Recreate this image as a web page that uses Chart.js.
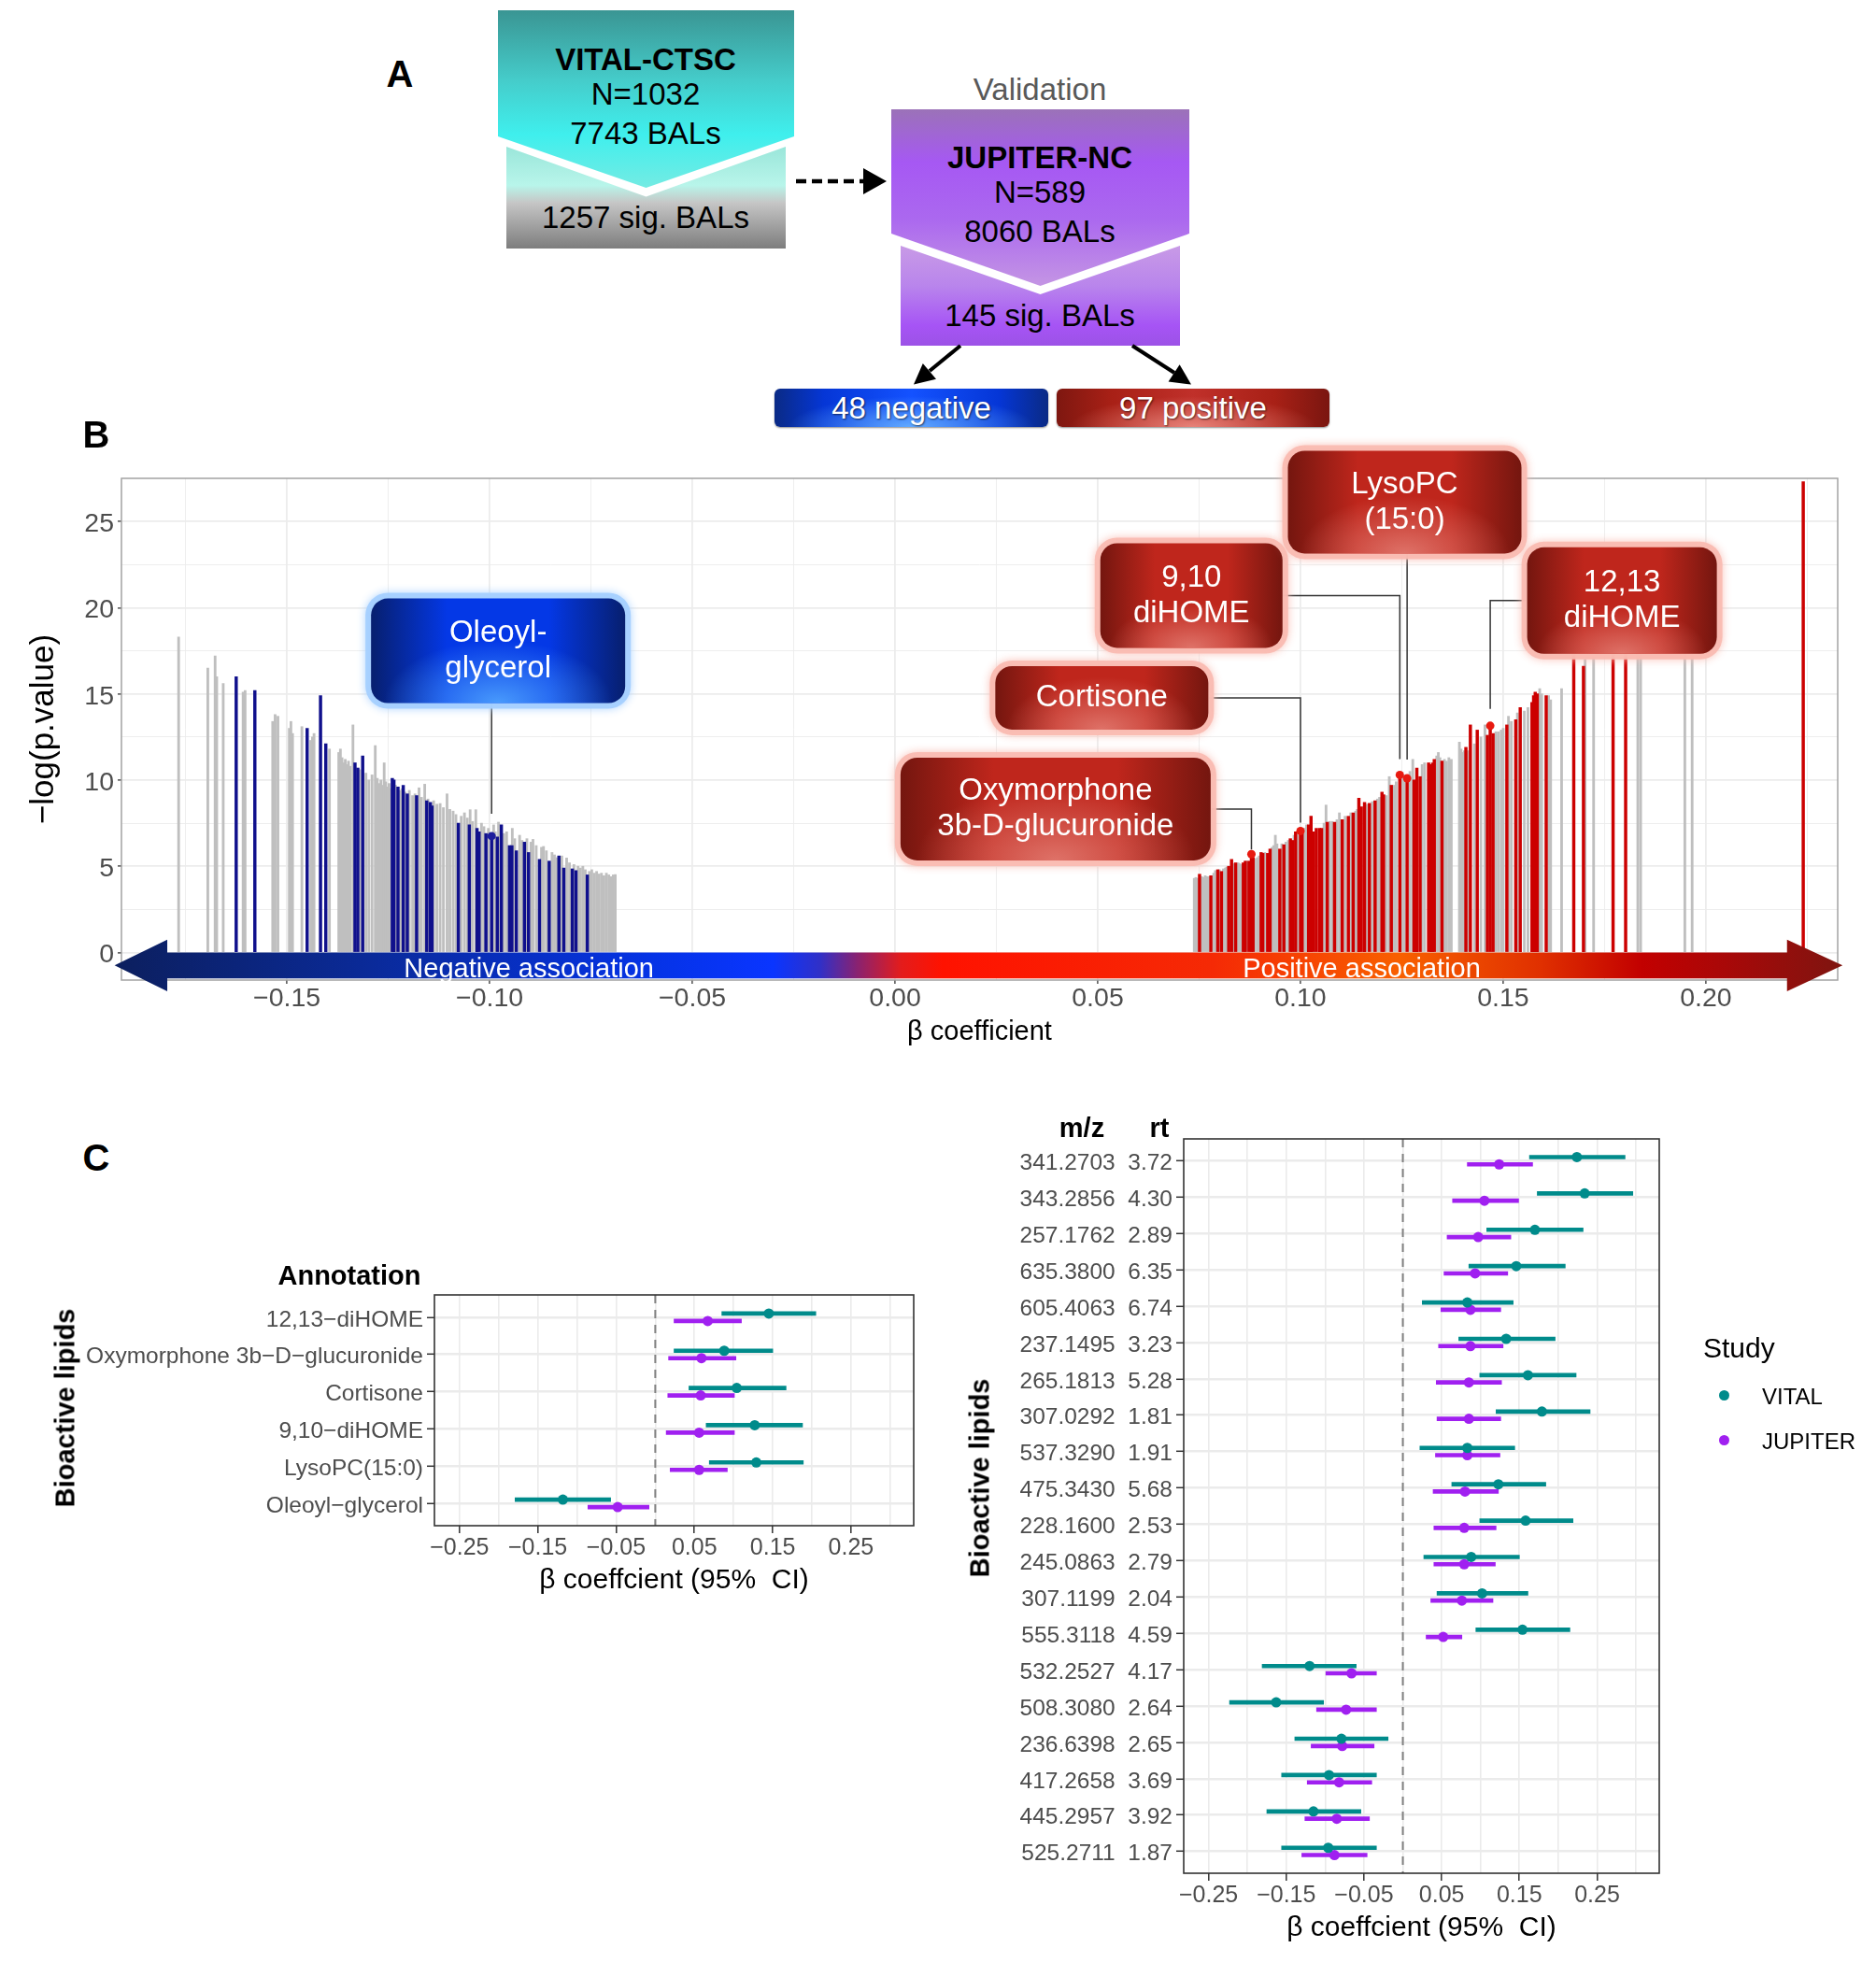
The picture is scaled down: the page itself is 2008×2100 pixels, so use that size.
<!DOCTYPE html>
<html>
<head>
<meta charset="utf-8">
<title>Bioactive lipids – VITAL / JUPITER</title>
<script src="https://cdn.jsdelivr.net/npm/chart.js@4.4.1/dist/chart.umd.min.js"></script>
<style>
  html, body { margin: 0; padding: 0; background: #fff; }
  body { width: 2008px; height: 2100px; position: relative; overflow: hidden;
         font-family: "Liberation Sans", Arial, Helvetica, sans-serif; color: #000; }
  .abs { position: absolute; }
  .txt { position: absolute; transform: translate(-50%, -50%); white-space: nowrap; line-height: 1; }
  .letter { font-weight: bold; font-size: 40px; }
  .flow { font-size: 33px; }
  .pill { position: absolute; border-radius: 6px; box-shadow: 0 1px 2px rgba(0,0,0,.45); }
  .pill span { position: absolute; left: 50%; top: 50%; transform: translate(-50%, -50%);
               color: #fff; font-size: 33px; white-space: nowrap; text-shadow: 1px 1px 2px rgba(0,0,0,.6); }
  canvas { position: absolute; }
  .vtitle { position: absolute; transform: translate(-50%, -50%) rotate(-90deg); font-weight: bold;
            font-size: 29px; white-space: nowrap; }
</style>
</head>
<body>

<!-- panel A : study flow -->
<div class="abs" style="left:533px;top:11px;width:317px;height:190px;clip-path:polygon(0 0,100% 0,100% 71%,50% 100%,0 71%);background:linear-gradient(#3a9593 0%,#45cdcb 40%,#3fefed 70%,#74ebe3 100%)"></div>
<div class="abs" style="left:542px;top:157px;width:299px;height:109px;clip-path:polygon(0 0,50% 49%,100% 0,100% 100%,0 100%);background:linear-gradient(#9ae6da 0%,#b8f5ea 38%,#c6c6c6 55%,#7d7d7d 100%)"></div>
<div class="abs" style="left:954px;top:117px;width:319px;height:189px;clip-path:polygon(0 0,100% 0,100% 70.4%,50% 100%,0 70.4%);background:linear-gradient(#9b72b8 0%,#a658f3 30%,#ab68ef 62%,#c495e4 100%)"></div>
<div class="abs" style="left:964px;top:263px;width:299px;height:107px;clip-path:polygon(0 0,50% 48.6%,100% 0,100% 100%,0 100%);background:linear-gradient(#c89ae6 0%,#b985ec 40%,#a654f5 80%,#9c52e6 100%)"></div>

<div class="txt letter" style="left:428px;top:79px">A</div>
<div class="txt flow" style="left:691px;top:63px;font-weight:bold">VITAL-CTSC</div>
<div class="txt flow" style="left:691px;top:100px">N=1032</div>
<div class="txt flow" style="left:691px;top:142px">7743 BALs</div>
<div class="txt flow" style="left:691px;top:232px">1257 sig. BALs</div>
<div class="txt flow" style="left:1113px;top:95px;color:#595959">Validation</div>
<div class="txt flow" style="left:1113px;top:168px;font-weight:bold">JUPITER-NC</div>
<div class="txt flow" style="left:1113px;top:205px">N=589</div>
<div class="txt flow" style="left:1113px;top:247px">8060 BALs</div>
<div class="txt flow" style="left:1113px;top:337px">145 sig. BALs</div>

<svg class="abs" style="left:0;top:0" width="2008" height="470">
  <line x1="852" y1="194" x2="925" y2="194" stroke="#000" stroke-width="4.5" stroke-dasharray="11,6"/>
  <polygon points="924,180 949,194 924,208" fill="#000"/>
  <line x1="1028" y1="370" x2="995" y2="397" stroke="#000" stroke-width="4"/>
  <polygon points="978,411.5 1002,405.8 987.8,389" fill="#000"/>
  <line x1="1212" y1="370" x2="1257" y2="399" stroke="#000" stroke-width="4"/>
  <polygon points="1275,411.5 1250.6,408.6 1262.6,390.2" fill="#000"/>
</svg>

<div class="pill" style="left:829px;top:416px;width:293px;height:41px;background:radial-gradient(ellipse 45% 80% at 50% 100%, rgba(110,185,255,.85), rgba(110,185,255,0) 100%), linear-gradient(90deg,#0a2a85 0%,#0536d6 18%,#1452ff 50%,#0536d6 82%,#0a2a85 100%)"><span>48 negative</span></div>
<div class="pill" style="left:1131px;top:416px;width:292px;height:41px;background:radial-gradient(ellipse 45% 80% at 50% 100%, rgba(240,150,140,.8), rgba(240,150,140,0) 100%), linear-gradient(90deg,#7e1710 0%,#a82016 20%,#c0302a 50%,#a82016 80%,#7a1610 100%)"><span>97 positive</span></div>

<!-- charts -->
<canvas id="chartB" width="2008" height="700" style="left:0;top:460px"></canvas>
<canvas id="chartAnnot" width="1000" height="420" style="left:0;top:1300px"></canvas>
<canvas id="chartUnknown" width="1008" height="930" style="left:1000px;top:1170px"></canvas>

<div class="txt letter" style="left:103px;top:465px">B</div>
<div class="txt letter" style="left:103px;top:1239px">C</div>

<div class="txt" style="left:374px;top:1365px;font-weight:bold;font-size:29px">Annotation</div>
<div class="txt" style="left:1158px;top:1207px;font-weight:bold;font-size:29px">m/z</div>
<div class="txt" style="left:1241px;top:1207px;font-weight:bold;font-size:29px">rt</div>
<div class="vtitle" style="left:70px;top:1507px">Bioactive lipids</div>
<div class="vtitle" style="left:1049px;top:1582px">Bioactive lipids</div>

<!-- legend -->
<div class="abs" style="left:1823px;top:1428px;font-size:30px;line-height:1">Study</div>
<div class="abs" style="left:1840px;top:1488px;width:11px;height:11px;border-radius:50%;background:#008b8b"></div>
<div class="abs" style="left:1886px;top:1483px;font-size:24px;line-height:1">VITAL</div>
<div class="abs" style="left:1840px;top:1536px;width:11px;height:11px;border-radius:50%;background:#a020f0"></div>
<div class="abs" style="left:1886px;top:1531px;font-size:24px;line-height:1">JUPITER</div>

<script>
// ---------------- panel B data: [beta coefficient, -log(p.value)] ----------------
const negGrey = [
  [-0.1767,18.3],[-0.1695,16.5],[-0.1677,17.2],[-0.1673,16.0],[-0.1657,15.6],[-0.1608,15.1],[-0.1603,15.2],
  [-0.1535,13.4],[-0.1529,13.8],[-0.1522,13.7],[-0.1494,13.0],[-0.1490,13.4],[-0.1486,12.7],[-0.1463,13.1],
  [-0.1441,12.3],[-0.1437,12.5],[-0.1433,12.7],[-0.1395,11.8],[-0.1372,11.6],[-0.1368,11.8],[-0.1364,11.3],
  [-0.1360,11.0],[-0.1356,11.2],[-0.1352,10.9],[-0.1348,11.1],[-0.1344,10.8],[-0.1337,13.2],[-0.1320,10.6],
  [-0.1305,10.4],[-0.1298,10.0],[-0.1290,10.3],[-0.1282,12.0],[-0.1277,10.1],[-0.1272,9.8],[-0.1268,10.0],
  [-0.1264,9.7],[-0.1260,11.0],[-0.1256,9.9],[-0.1252,9.6],[-0.1248,9.8],[-0.1244,9.5],[-0.1232,9.7],
  [-0.1222,9.4],[-0.1216,9.5],[-0.1208,9.3],[-0.1198,9.4],[-0.1190,9.1],[-0.1184,9.2],[-0.1174,9.55],
  [-0.1168,9.0],[-0.1160,9.76],[-0.1152,8.9],[-0.1138,8.8],[-0.1130,8.6],[-0.1122,8.64],[-0.1114,8.4],
  [-0.1105,9.2],[-0.1098,8.3],[-0.1090,8.2],[-0.1083,8.0],[-0.1070,7.9],[-0.1062,8.1],[-0.1055,7.8],
  [-0.1048,8.28],[-0.1042,7.6],[-0.1034,8.28],[-0.1020,7.5],[-0.1014,7.3],[-0.1003,7.2],[-0.0990,7.4],
  [-0.0986,7.0],[-0.0978,7.56],[-0.0965,6.9],[-0.0958,7.0],[-0.0944,7.2],[-0.0938,6.6],[-0.0926,6.8],
  [-0.0920,6.5],[-0.0908,6.6],[-0.0898,6.4],[-0.0893,6.56],[-0.0885,6.2],[-0.0872,6.1],[-0.0867,6.15],
  [-0.0860,5.9],[-0.0846,5.8],[-0.0840,5.66],[-0.0834,5.5],[-0.0822,5.6],[-0.0810,5.48],[-0.0803,5.2],
  [-0.0792,5.1],[-0.0782,5.0],[-0.0776,4.9],[-0.0770,5.0],[-0.0764,4.8],[-0.0754,4.7],[-0.0748,4.8],
  [-0.0742,4.6],[-0.0736,4.7],[-0.0730,4.55],[-0.0724,4.6],[-0.0718,4.45],[-0.0712,4.6],[-0.0706,4.5],
  [-0.0700,4.4],[-0.0695,4.5],[-0.0690,4.52]
];
const negSig = [
  [-0.1625,16.0],[-0.1579,15.2],[-0.1450,13.0],[-0.1417,14.9],[-0.1404,12.1],[-0.1332,11.0],[-0.1325,10.7],
  [-0.1313,11.4],[-0.1240,10.1],[-0.1236,10.0],[-0.1226,9.6],[-0.1213,9.7],[-0.1203,9.2],[-0.1180,9.1],
  [-0.1155,8.8],[-0.1146,8.7],[-0.1142,8.5],[-0.1077,7.5],[-0.1050,7.4],[-0.1031,7.2],[-0.1026,7.0],
  [-0.1009,6.9],[-0.0995,6.75],[-0.0981,6.7],[-0.0971,7.4],[-0.0951,6.2],[-0.0945,6.2],[-0.0934,5.9],
  [-0.0914,6.4],[-0.0904,5.8],[-0.0877,5.4],[-0.0853,5.3],[-0.0829,5.6],[-0.0817,4.9],[-0.0796,4.85],
  [-0.0787,4.75],[-0.0759,4.5]
];
const posGrey = [
  [0.0738,4.3],[0.0742,4.35],[0.0746,4.3],[0.0756,4.4],[0.0760,4.35],[0.0765,4.45],[0.0770,4.4],[0.0774,4.4],
  [0.0786,4.6],[0.0790,4.75],[0.0800,4.8],[0.0810,4.85],[0.0815,4.9],[0.0818,4.95],[0.0835,5.15],[0.0846,5.2],
  [0.0850,5.15],[0.0854,5.1],[0.0867,5.3],[0.0888,5.45],[0.0894,5.5],[0.0898,5.6],[0.0912,5.8],[0.0930,6.1],
  [0.0934,6.2],[0.0938,6.8],[0.0942,6.3],[0.0954,6.3],[0.0964,6.4],[0.0970,6.5],[0.0984,6.8],[0.0993,6.9],
  [0.1010,7.2],[0.1015,7.4],[0.1058,7.5],[0.1063,8.55],[0.1072,7.6],[0.1078,7.6],[0.1090,7.7],[0.1096,8.1],
  [0.1110,7.9],[0.1124,8.1],[0.1136,8.2],[0.1140,8.3],[0.1163,8.6],[0.1177,8.75],[0.1190,8.9],[0.1195,9.0],
  [0.1212,9.1],[0.1219,10.2],[0.1230,9.7],[0.1236,9.9],[0.1250,10.4],[0.1256,10.3],[0.1270,10.5],[0.1277,11.2],
  [0.1300,10.9],[0.1306,11.0],[0.1336,11.4],[0.1340,11.6],[0.1344,11.3],[0.1355,11.2],[0.1360,11.1],[0.1366,11.3],
  [0.1372,11.2],[0.1392,12.2],[0.1396,11.8],[0.1400,11.6],[0.1404,11.7],[0.1413,11.7],[0.1429,12.1],[0.1445,12.5],
  [0.1455,13.2],[0.1482,12.8],[0.1488,12.8],[0.1495,12.9],[0.1500,13.0],[0.1513,13.7],[0.1520,13.4],[0.1535,13.9],
  [0.1552,14.0],[0.1561,14.2],[0.1590,15.3],[0.1595,15.0],[0.1612,14.9],[0.1617,14.65],[0.1644,15.3],[0.1702,17.0],
  [0.1723,17.1],[0.1832,19.0],[0.1839,21.0],[0.1948,18.5],[0.1966,20.0]
];
const posSig = [
  [0.0751,4.54],[0.0779,4.45],[0.0796,4.8],[0.0805,4.7],[0.0823,5.0],[0.0830,5.4],[0.0840,5.2],[0.0859,5.2],
  [0.0864,5.3],[0.0873,5.3],[0.0879,5.7],[0.0883,5.5],[0.0903,5.8],[0.0907,5.75],[0.0919,5.75],[0.0925,6.0],
  [0.0949,6.0],[0.0959,6.25],[0.0975,6.6],[0.0980,6.5],[0.0988,7.0],[0.1000,7.05],[0.1004,7.05],[0.1020,7.4],
  [0.1026,7.9],[0.1032,7.0],[0.1039,7.2],[0.1047,7.2],[0.1052,7.2],[0.1066,7.55],[0.1084,7.55],[0.1103,7.7],
  [0.1118,7.9],[0.1130,8.1],[0.1144,8.95],[0.1150,8.45],[0.1158,8.7],[0.1170,8.65],[0.1184,8.8],[0.1201,9.3],
  [0.1205,9.15],[0.1224,9.7],[0.1245,10.3],[0.1263,10.1],[0.1280,10.0],[0.1287,10.7],[0.1295,10.2],[0.1316,11.0],
  [0.1322,10.9],[0.1326,11.0],[0.1330,11.2],[0.1349,11.1],[0.1408,11.9],[0.1419,13.2],[0.1436,12.9],[0.1461,12.6],
  [0.1468,13.15],[0.1475,12.7],[0.1509,13.2],[0.1531,13.5],[0.1542,14.2],[0.1571,14.5],[0.1575,14.9],[0.1579,15.1],
  [0.1584,15.0],[0.1606,14.9],[0.1674,21.0],[0.1698,16.6],[0.1771,20.5],[0.1802,22.0],[0.2240,27.3]
];
// annotated BALs in panel B
const calloutText = [['Oleoyl-', 'glycerol'], ['Oxymorphone', '3b-D-glucuronide'], ['Cortisone'],
                     ['9,10', 'diHOME'], ['LysoPC', '(15:0)'], ['12,13', 'diHOME']];
const calloutBeta = [-0.0995, 0.0879, 0.1000, 0.1245, 0.1263, 0.1468];
const calloutLogP = [6.75, 5.7, 7.05, 10.3, 10.1, 13.15];
const bTicksX = [-0.15, -0.10, -0.05, 0.00, 0.05, 0.10, 0.15, 0.20];
const bGridX = [-0.175, -0.15, -0.125, -0.10, -0.075, -0.05, -0.025, 0.00, 0.025, 0.05, 0.075, 0.10, 0.125, 0.15, 0.175, 0.20, 0.225];
const bTicksY = [0, 5, 10, 15, 20, 25];
const bGridY = [0, 2.5, 5, 7.5, 10, 12.5, 15, 17.5, 20, 22.5, 25];

// ---------------- panel C data: beta (95% CI) per study ----------------
const annotLipids = ['12,13\u2212diHOME', 'Oxymorphone 3b\u2212D\u2212glucuronide', 'Cortisone', '9,10\u2212diHOME', 'LysoPC(15:0)', 'Oleoyl\u2212glycerol'];
const annotVitalEst = [0.145, 0.088, 0.104, 0.127, 0.129, -0.118];
const annotVitalLo  = [0.085, 0.024, 0.043, 0.065, 0.069, -0.179];
const annotVitalHi  = [0.205, 0.150, 0.167, 0.188, 0.189, -0.057];
const annotJupEst   = [0.067, 0.059, 0.058, 0.056, 0.056, -0.048];
const annotJupLo    = [0.024, 0.017, 0.016, 0.014, 0.019, -0.086];
const annotJupHi    = [0.110, 0.103, 0.101, 0.101, 0.092, -0.008];

const unkMz = ['341.2703', '343.2856', '257.1762', '635.3800', '605.4063', '237.1495', '265.1813', '307.0292', '537.3290', '475.3430',
               '228.1600', '245.0863', '307.1199', '555.3118', '532.2527', '508.3080', '236.6398', '417.2658', '445.2957', '525.2711'];
const unkRt = ['3.72', '4.30', '2.89', '6.35', '6.74', '3.23', '5.28', '1.81', '1.91', '5.68',
               '2.53', '2.79', '2.04', '4.59', '4.17', '2.64', '2.65', '3.69', '3.92', '1.87'];
const unkVitalEst = [0.224, 0.234, 0.170, 0.146, 0.083, 0.133, 0.161, 0.179, 0.083, 0.123, 0.158, 0.088, 0.102, 0.154, -0.120, -0.163, -0.079, -0.095, -0.115, -0.096];
const unkVitalLo  = [0.163, 0.173, 0.108, 0.085, 0.025, 0.072, 0.099, 0.120, 0.022, 0.063, 0.099, 0.027, 0.044, 0.094, -0.181, -0.223, -0.139, -0.156, -0.175, -0.156];
const unkVitalHi  = [0.286, 0.296, 0.232, 0.209, 0.142, 0.196, 0.223, 0.241, 0.144, 0.184, 0.219, 0.150, 0.161, 0.215, -0.060, -0.102, -0.019, -0.034, -0.054, -0.034];
const unkJupEst   = [0.124, 0.105, 0.097, 0.093, 0.087, 0.087, 0.085, 0.085, 0.083, 0.080, 0.079, 0.079, 0.076, 0.052, -0.066, -0.073, -0.078, -0.082, -0.085, -0.088];
const unkJupLo    = [0.083, 0.064, 0.057, 0.053, 0.049, 0.046, 0.043, 0.044, 0.042, 0.039, 0.040, 0.040, 0.036, 0.030, -0.099, -0.111, -0.118, -0.123, -0.126, -0.130];
const unkJupHi    = [0.167, 0.149, 0.139, 0.135, 0.126, 0.129, 0.127, 0.126, 0.125, 0.123, 0.120, 0.119, 0.116, 0.076, -0.034, -0.034, -0.037, -0.040, -0.043, -0.046];

const cTicksX = [-0.25, -0.15, -0.05, 0.05, 0.15, 0.25];
const cGridX = [-0.25, -0.20, -0.15, -0.10, -0.05, 0.00, 0.05, 0.10, 0.15, 0.20, 0.25, 0.30];
const zeroRef = 0;

// ---------------- helpers ----------------
const FONT = '"Liberation Sans", Arial, Helvetica, sans-serif';
Chart.defaults.font.family = FONT;
const VITAL_COL = '#008b8b';
const JUP_COL = '#a020f0';

const near = (list, v) => list.some(t => Math.abs(t - v) < 1e-9);
const fmtTick = v => (v < -1e-9 ? '\u2212' : '') + Math.abs(v).toFixed(2);
const toPoints = pairs => pairs.map(([b, p]) => ({ x: b, y: p }));

// ---------------- panel B ----------------
const arrowGeom = { tipL: -0.1925, headL: -0.1795, headR: 0.2200, tipR: 0.2337, top: 0, bottom: -1.5, headTop: 0.75, headBottom: -2.25 };
const arrowStops = [[0, '#0c1f5e'], [0.148, '#0a2a99'], [0.311, '#0533e6'], [0.381, '#0a35ff'], [0.408, '#3030c8'],
  [0.43, '#8a2270'], [0.455, '#e31c1c'], [0.479, '#ff1200'], [0.636, '#f52a05'], [0.744, '#f86000'],
  [0.825, '#e03000'], [0.884, '#c20000'], [0.933, '#a80808'], [1, '#7e1510']];
const arrowLabels = [['Negative association', -0.0903], ['Positive association', 0.1151]];

// box centre (data units), size (px), which side the leader leaves from
const calloutBox = [
  { cx: -0.0979, cy: 17.5, w: 272, h: 112, side: 'bottom', gap: 24, tone: 'blue' },
  { cx: 0.0396, cy: 8.32, w: 332, h: 110, side: 'right', gap: 5, tone: 'red' },
  { cx: 0.0510, cy: 14.77, w: 228, h: 68, side: 'right', gap: 9, tone: 'red' },
  { cx: 0.0731, cy: 20.7, w: 195, h: 112, side: 'right', gap: 17, tone: 'red' },
  { cx: 0.1257, cy: 26.12, w: 250, h: 110, side: 'bottom', gap: 20, tone: 'red' },
  { cx: 0.1793, cy: 20.41, w: 203, h: 114, side: 'left', gap: 18, tone: 'red' }
];

function drawCallout(ctx, bx, by, w, h, tone, lines) {
  const r = 18;
  const pal = tone === 'blue'
    ? { glow: 'rgba(165,208,255,0.95)', edge: '#071f6e', mid: '#0438e6', hi: [80, 165, 255] }
    : { glow: 'rgba(250,188,178,0.95)', edge: '#74160f', mid: '#bf261c', hi: [226, 122, 112] };
  ctx.save();
  ctx.shadowColor = pal.glow;
  ctx.shadowBlur = 10;
  ctx.fillStyle = pal.glow;
  ctx.beginPath(); ctx.roundRect(bx - 6, by - 6, w + 12, h + 12, r + 6); ctx.fill();
  ctx.restore();

  ctx.save();
  const g = ctx.createLinearGradient(bx, 0, bx + w, 0);
  g.addColorStop(0, pal.edge); g.addColorStop(0.3, pal.mid); g.addColorStop(0.7, pal.mid); g.addColorStop(1, pal.edge);
  ctx.beginPath(); ctx.roundRect(bx, by, w, h, r);
  ctx.fillStyle = g; ctx.fill();
  ctx.clip();
  ctx.translate(bx + w / 2, by + h);
  ctx.scale(1, 0.55);
  const rad = w * 0.45;
  const rg = ctx.createRadialGradient(0, 0, 0, 0, 0, rad);
  const [hr, hg, hb] = pal.hi;
  rg.addColorStop(0, `rgba(${hr},${hg},${hb},0.9)`);
  rg.addColorStop(1, `rgba(${hr},${hg},${hb},0)`);
  ctx.fillStyle = rg;
  ctx.fillRect(-rad, -rad, rad * 2, rad * 2);
  ctx.restore();

  ctx.save();
  ctx.fillStyle = '#fff';
  ctx.font = `33px ${FONT}`;
  ctx.textAlign = 'center';
  ctx.textBaseline = 'middle';
  lines.forEach((t, k) => ctx.fillText(t, bx + w / 2, by + h / 2 + (k - (lines.length - 1) / 2) * 38));
  ctx.restore();
}

const bOverlay = {
  id: 'bOverlay',
  afterDatasetsDraw(chart) {
    const { ctx, chartArea: a, scales: { x, y } } = chart;
    ctx.save();
    ctx.strokeStyle = '#a3a3a3';
    ctx.lineWidth = 1.5;
    ctx.strokeRect(a.left, a.top, a.right - a.left, a.bottom - a.top);

    // association arrow
    const g = arrowGeom;
    const xl = x.getPixelForValue(g.tipL), xhl = x.getPixelForValue(g.headL);
    const xhr = x.getPixelForValue(g.headR), xr = x.getPixelForValue(g.tipR);
    const yt = y.getPixelForValue(g.top), yb = y.getPixelForValue(g.bottom);
    const yht = y.getPixelForValue(g.headTop), yhb = y.getPixelForValue(g.headBottom);
    const ym = (yt + yb) / 2;
    const grad = ctx.createLinearGradient(xl, 0, xr, 0);
    arrowStops.forEach(([o, c]) => grad.addColorStop(o, c));
    ctx.beginPath();
    ctx.moveTo(xl, ym); ctx.lineTo(xhl, yht); ctx.lineTo(xhl, yt); ctx.lineTo(xhr, yt); ctx.lineTo(xhr, yht);
    ctx.lineTo(xr, ym); ctx.lineTo(xhr, yhb); ctx.lineTo(xhr, yb); ctx.lineTo(xhl, yb); ctx.lineTo(xhl, yhb);
    ctx.closePath();
    ctx.fillStyle = grad;
    ctx.fill();
    ctx.fillStyle = '#fff';
    ctx.font = `29px ${FONT}`;
    ctx.textAlign = 'center';
    ctx.textBaseline = 'middle';
    arrowLabels.forEach(([t, v]) => ctx.fillText(t, x.getPixelForValue(v), ym + 5));

    // leader lines
    ctx.strokeStyle = '#333';
    ctx.lineWidth = 1.5;
    calloutBox.forEach((b, i) => {
      const cx = x.getPixelForValue(b.cx), cy = y.getPixelForValue(b.cy);
      const px = x.getPixelForValue(calloutBeta[i]), py = y.getPixelForValue(calloutLogP[i]);
      ctx.beginPath();
      if (b.side === 'bottom') {
        ctx.moveTo(px, cy + b.h / 2);
      } else {
        ctx.moveTo(b.side === 'right' ? cx + b.w / 2 : cx - b.w / 2, cy);
        ctx.lineTo(px, cy);
      }
      ctx.lineTo(px, py - b.gap);
      ctx.stroke();
    });
    calloutBox.forEach((b, i) => {
      const cx = x.getPixelForValue(b.cx), cy = y.getPixelForValue(b.cy);
      drawCallout(ctx, cx - b.w / 2, cy - b.h / 2, b.w, b.h, b.tone, calloutText[i]);
    });
    ctx.restore();
  }
};

new Chart(document.getElementById('chartB'), {
  type: 'bar',
  data: {
    datasets: [
      { type: 'scatter', data: calloutBeta.map((b, i) => ({ x: b, y: calloutLogP[i] })), pointRadius: 4.5, pointBorderWidth: 0,
        pointBackgroundColor: calloutBeta.map(b => (b < 0 ? '#1c1c9c' : '#e81a10')), order: 0 },
      { data: toPoints(negSig), backgroundColor: '#10108c', barThickness: 2.8, stack: 'all', order: 1 },
      { data: toPoints(posSig), backgroundColor: '#cc0000', barThickness: 2.8, stack: 'all', order: 1 },
      { data: toPoints(negGrey), backgroundColor: '#bfbfbf', barThickness: 2.2, stack: 'all', order: 2 },
      { data: toPoints(posGrey), backgroundColor: '#bfbfbf', barThickness: 2.2, stack: 'all', order: 2 }
    ]
  },
  options: {
    responsive: false, animation: false, devicePixelRatio: 1,
    layout: { padding: { left: 0, right: 41, top: 52, bottom: 0 } },
    plugins: { legend: { display: false }, tooltip: { enabled: false } },
    scales: {
      x: {
        type: 'linear', min: -0.1908, max: 0.2325, offset: false,
        afterBuildTicks: s => { s.ticks = bGridX.map(v => ({ value: v })); },
        afterFit: s => { s.height = 111; },
        grid: { offset: false, color: '#ececec', lineWidth: c => (near(bTicksX, c.tick.value) ? 1.8 : 0.9),
                tickLength: 4, tickWidth: 1.3, tickColor: c => (near(bTicksX, c.tick.value) ? '#333' : 'rgba(0,0,0,0)') },
        border: { display: false },
        ticks: { autoSkip: false, maxRotation: 0, padding: 2, color: '#4d4d4d', font: { size: 28.5, lineHeight: 1 },
                 callback: v => (near(bTicksX, v) ? fmtTick(v) : '') },
        title: { display: true, text: 'β coefficient', color: '#000', font: { size: 29 }, padding: { top: 0, bottom: 38 } }
      },
      y: {
        type: 'linear', min: -1.6, max: 27.5, stacked: false, offset: false,
        afterBuildTicks: s => { s.ticks = bGridY.map(v => ({ value: v })); },
        afterFit: s => { s.width = 130; },
        grid: { offset: false, color: '#ececec', lineWidth: c => (near(bTicksY, c.tick.value) ? 1.8 : 0.9),
                tickLength: 4, tickWidth: 1.3, tickColor: c => (near(bTicksY, c.tick.value) ? '#333' : 'rgba(0,0,0,0)') },
        border: { display: false },
        ticks: { autoSkip: false, padding: 4, labelOffset: 3, color: '#4d4d4d', font: { size: 28.5 },
                 callback: v => (near(bTicksY, v) ? String(v) : '') },
        title: { display: true, text: '\u2212log(p.value)', color: '#000', font: { size: 35 }, padding: { top: 26 } }
      }
    }
  },
  plugins: [bOverlay]
});

// ---------------- panel C ----------------
const panelBorder = {
  id: 'panelBorder',
  afterDatasetsDraw(chart) {
    const { ctx, chartArea: a } = chart;
    ctx.save();
    ctx.strokeStyle = '#333';
    ctx.lineWidth = 1.6;
    ctx.strokeRect(a.left, a.top, a.right - a.left, a.bottom - a.top);
    ctx.restore();
  }
};

function forestChart(id, labels, vLo, vEst, vHi, jLo, jEst, jHi, box) {
  const n = labels.length;
  const rows = labels.map((_, i) => i + 1);
  const dodge = 0.1;
  return new Chart(document.getElementById(id), {
    type: 'bar',
    data: {
      datasets: [
        { type: 'scatter', data: [{ x: zeroRef, y: 0.4 }, { x: zeroRef, y: n + 0.6 }], showLine: true,
          borderColor: '#808080', borderWidth: 2, borderDash: [9, 7], pointRadius: 0, order: 3 },
        { indexAxis: 'y', data: rows.map((r, i) => ({ y: r - dodge, x: [vLo[i], vHi[i]] })),
          backgroundColor: VITAL_COL, barThickness: 4, stack: 'ci', order: 2 },
        { indexAxis: 'y', data: rows.map((r, i) => ({ y: r + dodge, x: [jLo[i], jHi[i]] })),
          backgroundColor: JUP_COL, barThickness: 4, stack: 'ci', order: 2 },
        { type: 'scatter', data: rows.map((r, i) => ({ x: vEst[i], y: r - dodge })), pointRadius: 5.5,
          pointBorderWidth: 0, pointBackgroundColor: VITAL_COL, order: 1 },
        { type: 'scatter', data: rows.map((r, i) => ({ x: jEst[i], y: r + dodge })), pointRadius: 5.5,
          pointBorderWidth: 0, pointBackgroundColor: JUP_COL, order: 1 }
      ]
    },
    options: {
      responsive: false, animation: false, devicePixelRatio: 1,
      layout: { padding: { left: 0, right: box.right, top: box.top, bottom: 0 } },
      plugins: { legend: { display: false }, tooltip: { enabled: false } },
      scales: {
        x: {
          type: 'linear', min: -0.282, max: 0.330, offset: false, stacked: false,
          afterBuildTicks: s => { s.ticks = cGridX.map(v => ({ value: v })); },
          afterFit: s => { s.height = box.xh; },
          grid: { offset: false, color: '#ebebeb', lineWidth: 1.6, tickLength: 8, tickWidth: 1.5,
                  tickColor: c => (near(cTicksX, c.tick.value) ? '#333' : 'rgba(0,0,0,0)') },
          border: { display: false },
          ticks: { autoSkip: false, maxRotation: 0, padding: box.xpad, color: '#4d4d4d', font: { size: 25, lineHeight: 1 },
                   callback: v => (near(cTicksX, v) ? fmtTick(v) : '') },
          title: { display: true, text: 'β coeffcient (95%  CI)', color: '#000', font: { size: 30 },
                   padding: { top: 0, bottom: box.tpad } }
        },
        y: {
          type: 'linear', min: 0.4, max: n + 0.6, reverse: true, offset: false,
          afterBuildTicks: s => { s.ticks = rows.map(v => ({ value: v })); },
          afterFit: s => { s.width = box.yw; },
          grid: { offset: false, color: '#ebebeb', lineWidth: 2.6, tickLength: 8, tickWidth: 1.5, tickColor: '#333' },
          border: { display: false },
          ticks: { autoSkip: false, padding: 4, labelOffset: 3, color: '#4d4d4d', font: { size: 24.5 },
                   callback: v => labels[Math.round(v) - 1] }
        }
      }
    },
    plugins: [panelBorder]
  });
}

forestChart('chartAnnot', annotLipids, annotVitalLo, annotVitalEst, annotVitalHi, annotJupLo, annotJupEst, annotJupHi,
  { right: 22, top: 86, yw: 465, xh: 87, xpad: 3.5, tpad: 10 });

const unkLabels = unkMz.map((m, i) => `${m}  ${unkRt[i]}`);
forestChart('chartUnknown', unkLabels, unkVitalLo, unkVitalEst, unkVitalHi, unkJupLo, unkJupEst, unkJupHi,
  { right: 232, top: 49, yw: 267, xh: 95, xpad: 4, tpad: 18 });
</script>
</body>
</html>
